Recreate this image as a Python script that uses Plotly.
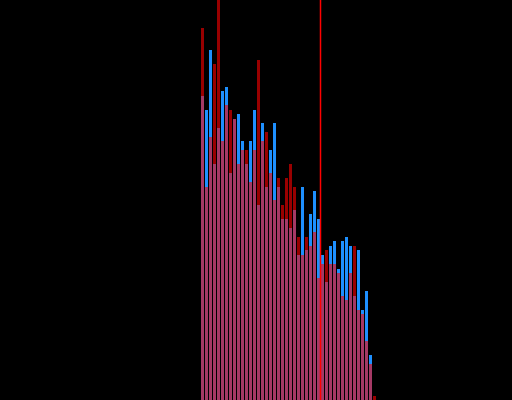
import plotly.graph_objects as go

# bin index and counts (two overlaid distributions)
bins = list(range(44))
blue_counts = [304, 290, 350, 236, 272, 309, 313, 227, 281, 286,
               259, 236, 259, 290, 195, 277, 213, 250, 277, 213,
               181, 181, 172, 190, 145, 213, 150, 186, 209, 181,
               145, 118, 154, 159, 131, 159, 163, 154, 104, 150,
               90, 109, 45, 0]
red_counts = [372, 213, 263, 336, 430, 259, 295, 290, 281, 236,
              250, 250, 218, 250, 340, 259, 268, 227, 200, 222,
              195, 222, 236, 213, 163, 145, 163, 154, 168, 122,
              136, 150, 136, 136, 127, 104, 100, 127, 154, 90,
              86, 59, 36, 4]
marker_x = 29.5


def build_figure():
    fig = go.Figure()
    fig.add_trace(go.Bar(x=bins, y=blue_counts, marker_color='dodgerblue',
                         marker_line_width=0, name='blue'))
    fig.add_trace(go.Bar(x=bins, y=red_counts, marker_color='red', opacity=0.6,
                         marker_line_width=0, name='red'))

    # vertical marker across the whole plot
    fig.add_shape(type='line', xref='x', yref='paper',
                  x0=marker_x, x1=marker_x, y0=0, y1=1,
                  line=dict(color='red', width=1.5))

    fig.update_layout(
        width=512,
        height=400,
        margin=dict(l=0, r=0, t=0, b=0),
        paper_bgcolor='black',
        plot_bgcolor='black',
        barmode='overlay',
        bargap=0.25,
        showlegend=False,
        xaxis=dict(visible=False, range=[-50.625, 77.375]),
        yaxis=dict(visible=False, range=[0, 400]),
    )
    return fig


def main():
    fig = build_figure()
    # no page margin so the figure fills the window
    fig.write_html('out.html',
                   config={'displayModeBar': False},
                   post_script="document.body.style.margin='0';"
                               "document.body.style.background='black';")


if __name__ == '__main__':
    main()
